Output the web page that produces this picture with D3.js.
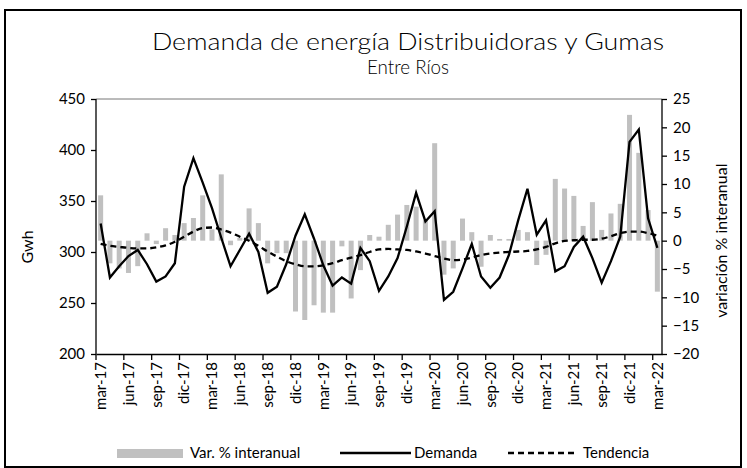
<!DOCTYPE html>
<html>
<head>
<meta charset="utf-8">
<script src="https://cdn.jsdelivr.net/npm/d3@7"></script>
<style>
  body { margin: 0; background: #fff; }
  text { font-family: Lato, "Open Sans", sans-serif; fill: #000; }
</style>
</head>
<body>
<div id="chart"></div>
<script>
const meses = [
  'mar-17','abr-17','may-17','jun-17','jul-17','ago-17','sep-17','oct-17','nov-17','dic-17','ene-18','feb-18',
  'mar-18','abr-18','may-18','jun-18','jul-18','ago-18','sep-18','oct-18','nov-18','dic-18','ene-19','feb-19',
  'mar-19','abr-19','may-19','jun-19','jul-19','ago-19','sep-19','oct-19','nov-19','dic-19','ene-20','feb-20',
  'mar-20','abr-20','may-20','jun-20','jul-20','ago-20','sep-20','oct-20','nov-20','dic-20','ene-21','feb-21',
  'mar-21','abr-21','may-21','jun-21','jul-21','ago-21','sep-21','oct-21','nov-21','dic-21','ene-22','feb-22',
  'mar-22'
];
const demanda = [
  328, 275, 286, 296, 302, 288, 271, 276, 289, 364, 392, 368,
  343, 314, 286, 302, 318, 300, 260, 266, 288, 316, 337, 313,
  287, 267, 275, 269, 304, 291, 262, 276, 294, 325, 358, 330,
  340, 253, 261, 284, 308, 276, 265, 275, 297, 331, 362, 317,
  331, 281, 286, 305, 315, 294, 270, 291, 315, 408, 420, 333,
  304
];
const tendencia = [
  308, 306, 305, 304, 303.5, 303.5, 304.5, 306.5, 310, 315, 320, 323.5,
  324, 322, 319, 315, 311, 306, 300.5, 295.5, 291, 288, 286, 286,
  287, 289, 292, 294.5, 297, 300, 302.5, 303, 302.5, 302, 300.5, 298.5,
  296, 293.5, 292, 292.5, 294.5, 297, 298.5, 299.5, 300, 300.5, 301, 302.5,
  305, 308.5, 311, 311.5, 312, 312, 313, 315.5, 318.5, 320, 320, 318.5,
  316
];
const variacion = [
  8.0, -4.0, -4.9, -5.7, -4.5, 1.3, -0.6, 2.2, 1.0, 3.1, 4.0, 8.0,
  2.0, 11.7, -0.8, 0.5, 5.7, 3.1, -4.0, -2.2, -2.2, -12.5, -14.0, -11.4,
  -12.7, -12.7, -1.0, -10.2, -5.2, 1.0, 0.7, 2.8, 4.6, 6.3, 6.0, 3.6,
  17.2, -6.0, -4.9, 3.9, 1.5, -4.6, 1.0, 0.3, 0.3, 1.9, 1.5, -4.3,
  -2.5, 10.9, 9.2, 7.9, 2.6, 6.8, 1.9, 4.8, 6.5, 22.2, 15.5, 5.4,
  -9.0
];
const ticksIzq = [200, 250, 300, 350, 400, 450];
const ticksDer = [-20, -15, -10, -5, 0, 5, 10, 15, 20, 25];

const width = 747, height = 468;
const margin = { left: 96, right: 85, top: 99, bottom: 114 };
const innerWidth = width - margin.left - margin.right;
const innerHeight = height - margin.top - margin.bottom;

const svg = d3.select('#chart').append('svg')
    .attr('width', width)
    .attr('height', height);

// marco exterior
svg.append('rect')
    .attr('x', 5).attr('y', 10)
    .attr('width', 736).attr('height', 457)
    .attr('fill', 'none')
    .attr('stroke', '#000')
    .attr('stroke-width', 2);

svg.append('text')
    .attr('x', 408).attr('y', 50)
    .attr('text-anchor', 'middle')
    .attr('textLength', 512)
    .attr('lengthAdjust', 'spacingAndGlyphs')
    .style('font-size', '23px')
    .style('font-weight', 300)
    .text('Demanda de energía Distribuidoras y Gumas');
svg.append('text')
    .attr('x', 408).attr('y', 74)
    .attr('text-anchor', 'middle')
    .attr('textLength', 82)
    .attr('lengthAdjust', 'spacingAndGlyphs')
    .style('font-size', '19px')
    .style('font-weight', 300)
    .text('Entre Ríos');

const g = svg.append('g')
    .attr('transform', `translate(${margin.left},${margin.top})`);

const xScale = d3.scaleBand()
    .domain(meses)
    .range([0, innerWidth])
    .paddingInner(0.46)
    .paddingOuter(0.23);
const step = xScale.step();
const xc = i => xScale(meses[i]) + xScale.bandwidth() / 2;

const yLeft = d3.scaleLinear().domain([200, 450]).range([innerHeight, 0]);
const yRight = d3.scaleLinear().domain([-20, 25]).range([innerHeight, 0]);

// borde superior del área de gráfico
g.append('line')
    .attr('x1', 0).attr('x2', innerWidth)
    .attr('y1', 0).attr('y2', 0)
    .attr('stroke', '#777').attr('stroke-width', 1);

// barras
g.selectAll('rect.bar').data(variacion)
  .enter().append('rect')
    .attr('class', 'bar')
    .attr('x', (d, i) => xScale(meses[i]))
    .attr('width', xScale.bandwidth())
    .attr('y', d => yRight(Math.max(0, d)))
    .attr('height', d => Math.abs(yRight(d) - yRight(0)))
    .attr('fill', '#c0c0c0');

// tendencia
g.append('path')
    .datum(tendencia)
    .attr('fill', 'none')
    .attr('stroke', '#000')
    .attr('stroke-width', 2.3)
    .attr('stroke-dasharray', '6,4')
    .attr('d', d3.line().x((d, i) => xc(i)).y(d => yLeft(d)).curve(d3.curveMonotoneX));

// demanda
g.append('path')
    .datum(demanda)
    .attr('fill', 'none')
    .attr('stroke', '#000')
    .attr('stroke-width', 2.3)
    .attr('stroke-linejoin', 'miter')
    .attr('d', d3.line().x((d, i) => xc(i)).y(d => yLeft(d)));

// ejes
const yAxisL = g.append('g')
    .call(d3.axisLeft(yLeft).tickValues(ticksIzq).tickSize(5).tickPadding(6));
const yAxisR = g.append('g')
    .attr('transform', `translate(${innerWidth},0)`)
    .call(d3.axisRight(yRight).tickValues(ticksDer).tickSize(5).tickPadding(6));

const xAxisG = g.append('g')
    .attr('transform', `translate(0,${innerHeight})`)
    .call(d3.axisBottom(xScale)
        .tickValues(meses.filter((d, i) => i % 3 === 0))
        .tickSize(6)
        .tickSizeOuter(0));
xAxisG.selectAll('.tick line')
    .attr('transform', `translate(${-step / 2},0)`);
xAxisG.selectAll('.tick text')
    .attr('transform', 'rotate(-90)')
    .attr('x', -8).attr('y', 0).attr('dy', '0.35em')
    .style('text-anchor', 'end');

[yAxisL, yAxisR, xAxisG].forEach(a => {
  a.select('.domain').attr('stroke', '#000').attr('stroke-width', 1.3);
  a.selectAll('.tick line').attr('stroke', '#000').attr('stroke-width', 1.3);
  a.selectAll('.tick text').style('font-size', '15px').style('font-family', 'Lato, sans-serif');
});
yAxisL.select('.domain').attr('d', `M0,0V${innerHeight}`);
yAxisR.select('.domain').attr('d', `M0,0V${innerHeight}`);

// títulos de ejes
svg.append('text')
    .attr('transform', `translate(33,${margin.top + yLeft(305)}) rotate(-90)`)
    .attr('text-anchor', 'middle')
    .style('font-size', '16px')
    .text('Gwh');
svg.append('text')
    .attr('transform', `translate(727,${margin.top + yRight(0)}) rotate(-90)`)
    .attr('text-anchor', 'middle')
    .style('font-size', '16px')
    .text('variación % interanual');

// leyenda
const leg = svg.append('g').attr('transform', 'translate(0,453)');
leg.append('rect').attr('x', 117).attr('y', -4).attr('width', 66).attr('height', 9).attr('fill', '#c0c0c0');
leg.append('text').attr('x', 190).attr('y', 0).attr('dy', '0.35em').style('font-size', '15px').text('Var. % interanual');
leg.append('line').attr('x1', 340).attr('x2', 411).attr('y1', 0).attr('y2', 0).attr('stroke', '#000').attr('stroke-width', 2.5);
leg.append('text').attr('x', 414).attr('y', 0).attr('dy', '0.35em').style('font-size', '15px').text('Demanda');
leg.append('line').attr('x1', 508).attr('x2', 576).attr('y1', 0).attr('y2', 0).attr('stroke', '#000').attr('stroke-width', 2.5).attr('stroke-dasharray', '6,4');
leg.append('text').attr('x', 583).attr('y', 0).attr('dy', '0.35em').style('font-size', '15px').text('Tendencia');
</script>
</body>
</html>
